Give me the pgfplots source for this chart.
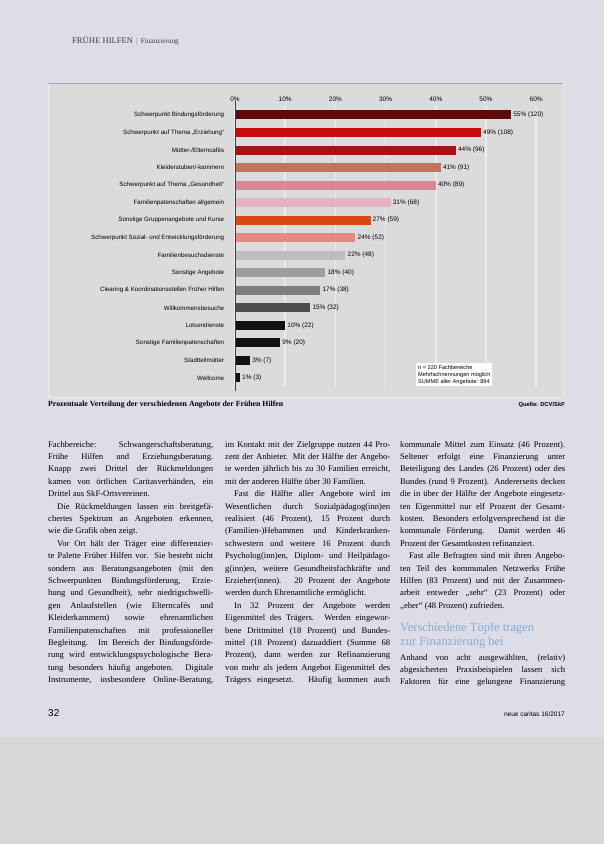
\documentclass[border=0pt]{standalone}
\usepackage{fontspec}
\setmainfont{Liberation Serif}
\newfontfamily\chartfont{Liberation Sans}
\usepackage{pgfplots}
\pgfplotsset{compat=1.18}
\definecolor{pagebg}{HTML}{DEDCE6}
\definecolor{scanbg}{HTML}{D7D7D7}
\definecolor{chartbg}{HTML}{DBDBDB}
\definecolor{cA}{HTML}{5C0A0A}
\definecolor{cB}{HTML}{C80A0A}
\definecolor{cC}{HTML}{A51414}
\definecolor{cD}{HTML}{C8705A}
\definecolor{cE}{HTML}{D68A98}
\definecolor{cF}{HTML}{E7B3C2}
\definecolor{cG}{HTML}{D9480F}
\definecolor{cH}{HTML}{E58A7E}
\definecolor{cI}{HTML}{BDBDBD}
\definecolor{cJ}{HTML}{9E9E9E}
\definecolor{cK}{HTML}{7E7E7E}
\definecolor{cL}{HTML}{4E4E4E}
\definecolor{cM}{HTML}{111111}
\definecolor{headblue}{HTML}{7FAEDD}
\newcommand\bodyfont{\fontsize{8.6}{12.4}\selectfont\tolerance=10000\hyphenpenalty=10000}
\begin{document}
\begin{tikzpicture}[x=1pt,y=1pt]
\fill[pagebg] (0,0) rectangle (604,-844);
\fill[scanbg] (0,-737) rectangle (604,-844);
\fill[chartbg] (48,-83) rectangle (563,-397);
\draw[white!85!gray, line width=0.8pt] (48,-83) rectangle (563,-397);
\draw[gray!70, line width=0.8pt] (48,-83) -- (563,-83);
% header
\node[anchor=base west, inner sep=0, text=black!75] at (72,-43) {\fontsize{8.6}{9}\selectfont FRÜHE HILFEN\hspace{3pt}\textcolor{black!40}{|}\hspace{3pt}\fontsize{7.2}{8}\selectfont Finanzierung};
\begin{axis}[
  at={(235pt,-106.2pt)}, anchor=north west, scale only axis,
  width=301.2pt, height=280.5pt,
  xmin=0, xmax=60, ymin=0.5, ymax=16.5, y dir=reverse,
  axis line style={draw=none}, tick style={draw=none},
  xtick={0,10,20,30,40,50,60},
  xticklabels={0\%,10\%,20\%,30\%,40\%,50\%,60\%},
  xticklabel pos=upper,
  xticklabel style={font=\chartfont\fontsize{6.5}{7}\selectfont, yshift=1pt},
  xmajorgrids, grid style={white, line width=1.5pt, opacity=0.45},
  ytick={1,...,16},
  yticklabels={Schwerpunkt Bindungsförderung, Schwerpunkt auf Thema „Erziehung“, Mütter-/Elterncafés, Kleiderstuben/-kammern, Schwerpunkt auf Thema „Gesundheit“, Familienpatenschaften allgemein, Sonstige Gruppenangebote und Kurse, Schwerpunkt Sozial- und Entwicklungsförderung, Familienbesuchsdienste, Sonstige Angebote, Clearing \& Koordinationsstellen Früher Hilfen, Willkommensbesuche, Lotsendienste, Sonstige Familienpatenschaften, Stadtteilmütter, Wellcome},
  yticklabel style={font=\chartfont\fontsize{6.2}{7}\selectfont, xshift=-3pt},
  xbar, bar width=9pt,
  point meta=explicit symbolic,
  nodes near coords,
  nodes near coords align={horizontal},
  nodes near coords style={font=\chartfont\fontsize{6.5}{7}\selectfont, text=black, anchor=west, inner sep=2pt},
  B/.style={fill=#1, draw=none, bar shift=0pt},
  clip=false,
]
\addplot[B=cA] coordinates {(55,1) [55\% (120)]};
\addplot[B=cB] coordinates {(49,2) [49\% (108)]};
\addplot[B=cC] coordinates {(44,3) [44\% (96)]};
\addplot[B=cD] coordinates {(41,4) [41\% (91)]};
\addplot[B=cE] coordinates {(40,5) [40\% (89)]};
\addplot[B=cF] coordinates {(31,6) [31\% (68)]};
\addplot[B=cG] coordinates {(27,7) [27\% (59)]};
\addplot[B=cH] coordinates {(24,8) [24\% (52)]};
\addplot[B=cI] coordinates {(22,9) [22\% (48)]};
\addplot[B=cJ] coordinates {(18,10) [18\% (40)]};
\addplot[B=cK] coordinates {(17,11) [17\% (38)]};
\addplot[B=cL] coordinates {(15,12) [15\% (32)]};
\addplot[B=cM] coordinates {(10,13) [10\% (22)]};
\addplot[B=cM] coordinates {(9,14) [9\% (20)]};
\addplot[B=cM] coordinates {(3,15) [3\% (7)]};
\addplot[B=cM] coordinates {(1,16) [1\% (3)]};
\end{axis}
\draw[black!75, line width=0.8pt] (235,-101) -- (235,-391);
% note
\node[fill=white, anchor=north west, inner sep=2pt, align=left, font=\chartfont\fontsize{5.6}{7}\selectfont] at (416,-363) {n = 220 Fachbereiche\\Mehrfachnennungen möglich\\SUMME aller Angebote: 894};
% caption
\node[anchor=base west, inner sep=0, font=\bfseries\fontsize{7.8}{9}\selectfont] at (48,-406) {Prozentuale Verteilung der verschiedenen Angebote der Frühen Hilfen};
\node[anchor=base east, inner sep=0, font=\chartfont\bfseries\fontsize{5.8}{6}\selectfont] at (565,-406) {Quelle: DCV/SkF};
% column 1
\node[anchor=base west, inner sep=0] at (48,-447) {\parbox[t]{165pt}{\bodyfont
Fachbereiche: Schwangerschaftsberatung,\linebreak
Frühe Hilfen und Erziehungsberatung.\linebreak
Knapp zwei Drittel der Rückmeldungen\linebreak
kamen von örtlichen Caritasverbänden, ein\linebreak
Drittel aus SkF-Ortsvereinen.\par
\hspace*{9pt}Die Rückmeldungen lassen ein breitgefä-\linebreak
chertes Spektrum an Angeboten erkennen,\linebreak
wie die Grafik oben zeigt.\par
\hspace*{9pt}Vor Ort hält der Träger eine differenzier-\linebreak
te Palette Früher Hilfen vor. Sie besteht nicht\linebreak
sondern aus Beratungsangeboten (mit den\linebreak
Schwerpunkten Bindungsförderung, Erzie-\linebreak
hung und Gesundheit), sehr niedrigschwelli-\linebreak
gen Anlaufstellen (wie Elterncafés und\linebreak
Kleiderkammern) sowie ehrenamtlichen\linebreak
Familienpatenschaften mit professioneller\linebreak
Begleitung. Im Bereich der Bindungsförde-\linebreak
rung wird entwicklungspsychologische Bera-\linebreak
tung besonders häufig angeboten. Digitale\linebreak
Instrumente, insbesondere Online-Beratung,\linebreak}};
% column 2
\node[anchor=base west, inner sep=0] at (225,-447) {\parbox[t]{165pt}{\bodyfont
im Kontakt mit der Zielgruppe nutzen 44 Pro-\linebreak
zent der Anbieter. Mit der Hälfte der Angebo-\linebreak
te werden jährlich bis zu 30 Familien erreicht,\linebreak
mit der anderen Hälfte über 30 Familien.\par
\hspace*{9pt}Fast die Hälfte aller Angebote wird im\linebreak
Wesentlichen durch Sozialpädagog(inn)en\linebreak
realisiert (46 Prozent), 15 Prozent durch\linebreak
(Familien-)Hebammen und Kinderkranken-\linebreak
schwestern und weitere 16 Prozent durch\linebreak
Psycholog(inn)en, Diplom- und Heilpädago-\linebreak
g(inn)en, weitere Gesundheitsfachkräfte und\linebreak
Erzieher(innen). 20 Prozent der Angebote\linebreak
werden durch Ehrenamtliche ermöglicht.\par
\hspace*{9pt}In 32 Prozent der Angebote werden\linebreak
Eigenmittel des Trägers. Werden eingewor-\linebreak
bene Drittmittel (18 Prozent) und Bundes-\linebreak
mittel (18 Prozent) dazuaddiert (Summe 68\linebreak
Prozent), dann werden zur Refinanzierung\linebreak
von mehr als jedem Angebot Eigenmittel des\linebreak
Trägers eingesetzt. Häufig kommen auch\linebreak}};
% column 3
\node[anchor=base west, inner sep=0] at (400,-447) {\parbox[t]{165pt}{\bodyfont
kommunale Mittel zum Einsatz (46 Prozent).\linebreak
Seltener erfolgt eine Finanzierung unter\linebreak
Beteiligung des Landes (26 Prozent) oder des\linebreak
Bundes (rund 9 Prozent). Andererseits decken\linebreak
die in über der Hälfte der Angebote eingesetz-\linebreak
ten Eigenmittel nur elf Prozent der Gesamt-\linebreak
kosten. Besonders erfolgversprechend ist die\linebreak
kommunale Förderung. Damit werden 46\linebreak
Prozent der Gesamtkosten refinanziert.\par
\hspace*{9pt}Fast alle Befragten sind mit ihren Angebo-\linebreak
ten Teil des kommunalen Netzwerks Frühe\linebreak
Hilfen (83 Prozent) und mit der Zusammen-\linebreak
arbeit entweder „sehr“ (23 Prozent) oder\linebreak
„eher“ (48 Prozent) zufrieden.\par}};
\node[anchor=base west, inner sep=0, text=headblue] at (400,-631) {\parbox[t]{170pt}{\fontsize{12.5}{14}\selectfont Verschiedene Töpfe tragen\\zur Finanzierung bei}};
\node[anchor=base west, inner sep=0] at (400,-660) {\parbox[t]{165pt}{\bodyfont
Anhand von acht ausgewählten, (relativ)\linebreak
abgesicherten Praxisbeispielen lassen sich\linebreak
Faktoren für eine gelungene Finanzierung\linebreak}};
% footer
\node[anchor=base west, inner sep=0, font=\chartfont\fontsize{10}{11}\selectfont] at (48,-716) {32};
\node[anchor=base east, inner sep=0, font=\chartfont\fontsize{6.5}{7}\selectfont] at (565,-716) {neue caritas 16/2017};
\end{tikzpicture}
\end{document}
